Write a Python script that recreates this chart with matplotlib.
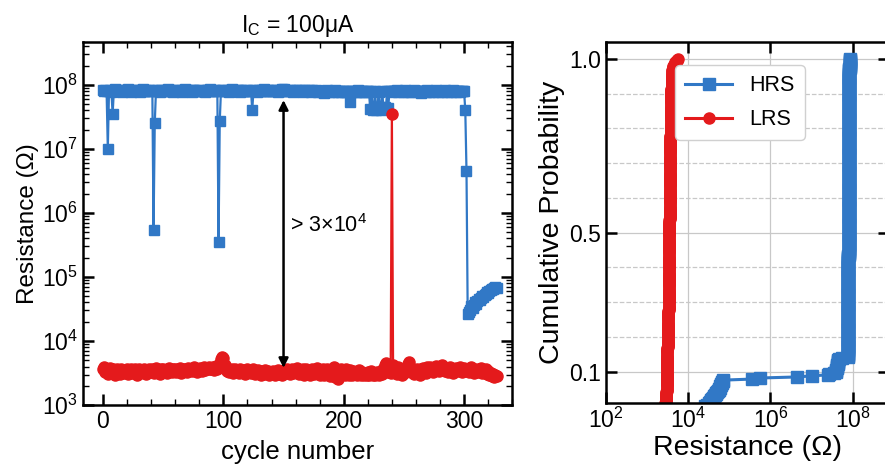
import numpy as np
import matplotlib
matplotlib.use('Agg')
import matplotlib.pyplot as plt
from matplotlib.ticker import FixedLocator, LogLocator, MultipleLocator, NullFormatter

plt.rcParams['font.family'] = ['Liberation Sans', 'DejaVu Sans']
plt.rcParams['mathtext.fontset'] = 'custom'
plt.rcParams['mathtext.rm'] = 'Liberation Sans'
plt.rcParams['mathtext.it'] = 'Liberation Sans:italic'

# HRS per cycle, in MOhm (cycles 0..327)
hrs_mohm = [
    82, 80, 84, 79, 10, 81, 83, 78, 35, 80, 85, 82, 79, 81, 84, 80, 78, 83, 81, 79,
    82, 85, 80, 78, 81, 83, 79, 84, 82, 80, 81, 78, 83, 85, 80, 79, 82, 81, 84, 80,
    79, 82, 0.55, 25, 81, 83, 80, 78, 84, 82, 79, 81, 80, 83, 85, 79, 82, 80, 78, 81,
    84, 80, 82, 79, 81, 83, 78, 80, 85, 82, 79, 81, 84, 80, 78, 82, 83, 79, 81, 80,
    82, 84, 79, 81, 80, 78, 83, 82, 80, 85, 81, 79, 82, 80, 83, 81, 0.35, 27, 80, 82,
    84, 79, 81, 83, 80, 78, 82, 85, 80, 79, 81, 83, 82, 80, 78, 84, 81, 79, 82, 80,
    83, 81, 79, 80, 40, 82, 84, 80, 78, 81, 83, 79, 82, 80, 85, 81, 79, 83, 80, 82,
    81, 79, 84, 80, 82, 78, 81, 83, 80, 85, 87, 82, 80, 79, 81, 83, 80, 82, 78, 81,
    84, 80, 79, 82, 81, 83, 78, 80, 82, 79, 81, 84, 80, 78, 82, 81, 79, 83, 80, 77,
    79, 81, 78, 80, 76, 79, 82, 80, 77, 81, 79, 78, 80, 82, 79, 77, 81, 80, 78, 79,
    81, 78, 80, 77, 79, 55, 80, 78, 81, 79, 77, 80, 82, 78, 79, 81, 77, 80, 78, 79,
    81, 77, 42, 80, 41, 44, 79, 40, 43, 78, 45, 41, 80, 43, 46, 42, 79, 44, 81, 80,
    78, 81, 79, 80, 82, 78, 80, 79, 81, 77, 80, 82, 79, 78, 81, 80, 77, 79, 82, 80,
    79, 81, 78, 80, 76, 79, 81, 80, 78, 82, 79, 77, 80, 81, 78, 80, 79, 82, 77, 80,
    81, 79, 78, 80, 82, 79, 77, 81, 80, 78, 79, 82, 80, 78, 81, 79, 80, 77, 81, 80,
    79, 40, 4.5, 0.026, 0.028, 0.031, 0.035, 0.033, 0.036, 0.040, 0.038, 0.042, 0.045,
    0.043, 0.047, 0.050, 0.048, 0.052, 0.055, 0.058,
    0.056, 0.060, 0.063, 0.066, 0.064, 0.068, 0.070, 0.067,
]

# LRS per cycle, in kOhm (cycles 0..327)
lrs_kohm = [
    3.6, 3.9, 3.3, 3.7, 3.1, 3.5, 3.8, 3.2, 3.6, 3.4, 3.0, 3.5, 3.7, 3.3, 3.1, 3.6, 3.4, 3.2, 3.5, 3.3,
    3.6, 3.1, 3.4, 3.7, 3.2, 3.5, 3.3, 3.6, 3.0, 3.4, 3.7, 3.2, 3.5, 3.3, 3.6, 3.4, 3.1, 3.5, 3.7, 3.3,
    3.4, 3.6, 3.2, 3.5, 3.8, 3.3, 3.5, 3.1, 3.6, 3.4, 3.7, 3.3, 3.5, 3.2, 3.6, 3.8, 3.4, 3.3, 3.6, 3.5,
    3.7, 3.3, 3.6, 3.4, 3.8, 3.2, 3.5, 3.7, 3.4, 3.6, 3.3, 3.8, 3.5, 3.7, 3.4, 3.6, 3.9, 3.5, 3.3, 3.7,
    3.6, 3.8, 3.4, 3.7, 3.9, 3.5, 3.6, 3.8, 4.0, 3.6, 3.7, 3.9, 3.5, 3.8, 4.1, 3.7, 3.9, 4.6, 5.2, 5.6,
    5.4, 4.2, 3.6, 3.4, 3.7, 3.3, 3.5, 3.6, 3.2, 3.4, 3.7, 3.3, 3.5, 3.2, 3.6, 3.4, 3.3, 3.5, 3.1, 3.4,
    3.6, 3.3, 3.5, 3.2, 3.4, 3.6, 3.1, 3.4, 3.3, 3.5, 3.2, 3.0, 3.4, 3.3, 3.1, 3.5, 3.2, 3.4, 3.0, 3.3,
    3.1, 3.4, 3.2, 3.0, 3.3, 3.5, 3.1, 3.2, 3.4, 3.0, 3.3, 3.5, 3.2, 3.6, 3.3, 3.1, 3.4, 3.7, 3.2, 3.5,
    3.3, 3.8, 3.4, 3.1, 3.5, 3.2, 3.6, 3.0, 3.4, 3.7, 3.2, 3.5, 2.9, 3.3, 3.6, 3.1, 3.4, 3.2, 3.8, 3.3,
    3.0, 3.5, 3.2, 3.6, 2.9, 3.4, 3.7, 3.1, 3.3, 2.8, 3.5, 3.2, 3.9, 2.7, 3.4, 2.6, 3.3, 3.0, 3.6, 3.2,
    3.4, 3.0, 3.7, 3.3, 2.9, 3.5, 3.2, 3.0, 3.4, 3.1, 3.3, 2.9, 3.2, 3.5, 3.0, 3.3, 3.1, 2.9, 3.2, 3.0,
    3.3, 2.9, 3.1, 3.4, 3.0, 3.2, 2.9, 3.1, 3.3, 3.0, 3.2, 3.4, 3.1, 3.6, 4.3, 4.6, 3.8, 3.3, 3.5, 3.2,
    35000, 4.2, 3.4, 3.7, 3.1, 3.9, 3.3, 3.6, 3.0, 3.4, 3.2, 3.8, 3.5, 4.4, 4.7, 3.9, 3.3, 3.6, 3.1, 3.5,
    3.2, 3.7, 3.4, 3.0, 3.6, 3.3, 3.8, 3.5, 3.2, 3.9, 3.4, 3.7, 4.0, 3.6, 3.3, 3.8, 3.5, 4.1, 3.6, 3.4,
    3.9, 3.5, 4.2, 3.7, 3.4, 3.8, 3.6, 3.3, 3.9, 3.5, 3.7, 3.2, 3.6, 3.8, 3.4, 3.7, 3.5, 3.9, 3.3, 3.6,
    3.8, 3.4, 3.7, 3.5, 3.3, 3.6, 3.9, 3.4, 3.2, 3.7, 3.5, 3.3, 3.6, 3.4, 3.8, 3.2, 3.5, 3.3, 3.6, 3.1,
    3.4, 3.0, 3.2, 2.8, 3.1, 2.7, 2.9, 2.8,
]

BLUE = '#3178c6'
RED = '#e41a1c'

hrs = np.array(hrs_mohm) * 1e6
lrs = np.array(lrs_kohm) * 1e3
cycles = np.arange(len(hrs))

fig = plt.figure(figsize=(8.85, 4.76), dpi=100)
ax1 = fig.add_axes([0.0938, 0.149, 0.485, 0.763])
ax2 = fig.add_axes([0.685, 0.153, 0.319, 0.758])

# left: resistance vs cycle
ax1.plot(cycles, hrs, '-s', color=BLUE, lw=1.6, ms=7.5, mec=BLUE)
ax1.plot(cycles, lrs, '-o', color=RED, lw=1.6, ms=8, mec=RED)
ax1.set_yscale('log')
ax1.set_xlim(-16.6, 340)
ax1.set_ylim(1e3, 4.7e8)
ax1.xaxis.set_major_locator(MultipleLocator(100))
ax1.xaxis.set_minor_locator(MultipleLocator(20))
ax1.yaxis.set_major_locator(FixedLocator([1e3, 1e4, 1e5, 1e6, 1e7, 1e8]))
ax1.yaxis.set_minor_locator(LogLocator(base=10, subs=np.arange(2, 10)))
ax1.yaxis.set_minor_formatter(NullFormatter())
ax1.tick_params(which='both', direction='in', top=True, right=True, labelsize=16.5)
ax1.tick_params(which='major', length=8, width=1.8)
ax1.tick_params(which='minor', length=4, width=1.0)
for s in ax1.spines.values():
    s.set_linewidth(1.8)
ax1.set_xlabel('cycle number', fontsize=18.5, labelpad=5)
ax1.set_ylabel('Resistance (Ω)', fontsize=17.5, labelpad=2)
ax1.set_title('I$_\\mathregular{C}$ = 100μA', fontsize=16.5, pad=7)

ax1.annotate('', xy=(150, 5.8e7), xytext=(150, 3.8e3),
             arrowprops=dict(arrowstyle='<|-|>', lw=1.8, color='black',
                             mutation_scale=14, shrinkA=0, shrinkB=0))
ax1.text(155, 6.3e5, '> 3×10$^\\mathregular{4}$', fontsize=15.5, ha='left', va='center')

# right: cumulative probability
hrs_sorted = np.sort(hrs)
lrs_sorted = np.sort(lrs[lrs < 1e5])
p_hrs = np.arange(1, len(hrs_sorted) + 1) / len(hrs_sorted)
p_lrs = np.arange(1, len(lrs_sorted) + 1) / len(lrs_sorted)

ax2.plot(hrs_sorted, p_hrs, '-s', color=BLUE, lw=2.2, ms=8, mec=BLUE, label='HRS')
ax2.plot(lrs_sorted, p_lrs, '-o', color=RED, lw=2.2, ms=8, mec=RED, label='LRS')
ax2.set_xscale('log')
ax2.set_xlim(1e2, 7.5e8)
ax2.set_ylim(0.010, 1.047)
ax2.xaxis.set_major_locator(FixedLocator([1e2, 1e4, 1e6, 1e8]))
ax2.xaxis.set_minor_locator(FixedLocator([]))
ax2.yaxis.set_major_locator(FixedLocator([0.1, 0.5, 1.0]))
ax2.yaxis.set_minor_locator(FixedLocator([0.2, 0.3, 0.4, 0.6, 0.7, 0.8, 0.9]))
ax2.set_yticklabels(['0.1', '0.5', '1.0'])
ax2.tick_params(which='major', direction='in', top=True, right=True, labelsize=16.5,
                length=8, width=1.8)
ax2.tick_params(which='minor', length=0)
ax2.grid(True, which='major', color='#c8c8c8', lw=0.9)
ax2.grid(True, which='minor', axis='y', color='#c8c8c8', lw=0.9, ls='--')
ax2.set_axisbelow(True)
for s in ax2.spines.values():
    s.set_linewidth(1.8)
ax2.set_xlabel('Resistance (Ω)', fontsize=20.5, labelpad=1)
ax2.set_ylabel('Cumulative Probability', fontsize=20.5, labelpad=3)
ax2.legend(loc='upper left', bbox_to_anchor=(0.245, 0.936), borderaxespad=0,
           fontsize=15.5, handlelength=2.2, handletextpad=0.8, borderpad=0.45,
           labelspacing=0.6, edgecolor='#d0d0d0', framealpha=1)

fig.savefig('out.png', dpi=100)
